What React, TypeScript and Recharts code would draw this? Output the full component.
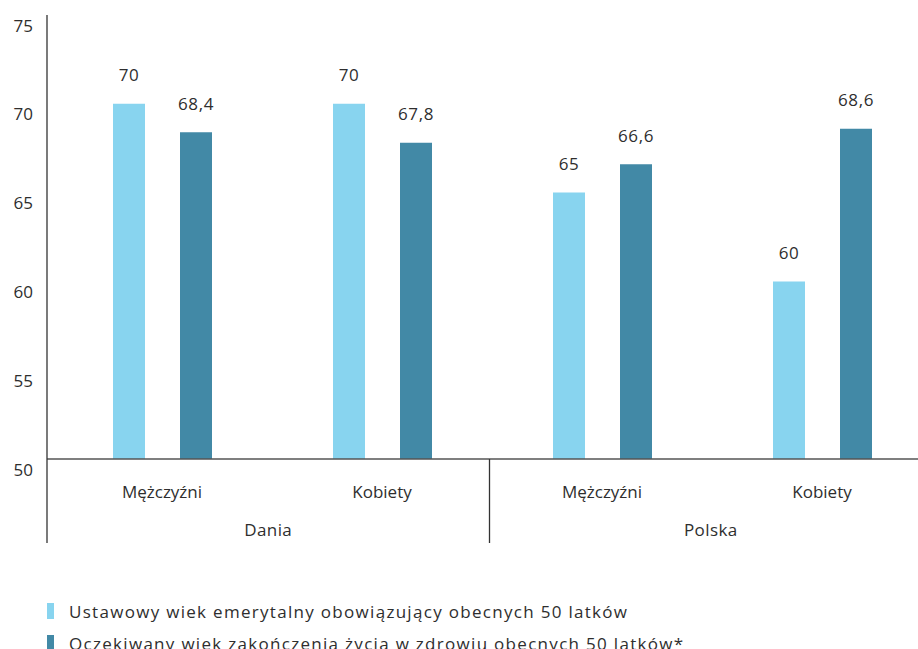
import { BarChart, Bar, XAxis, YAxis, LabelList } from 'recharts'

const categories = ['Mężczyźni', 'Kobiety', 'Mężczyźni', 'Kobiety']
const groups = ['Dania', 'Dania', 'Polska', 'Polska']
const retirementAge = [70, 70, 65, 60]
const healthyLifeEnd = [68.4, 67.8, 66.6, 68.6]
const yTicks = [50, 55, 60, 65, 70, 75]
const seriesNames = [
  'Ustawowy wiek emerytalny obowiązujący obecnych 50 latków',
  'Oczekiwany wiek zakończenia życia w zdrowiu obecnych 50 latków*',
]
const seriesColors = ['#88d4ef', '#4289a6']

const data = categories.map((c, i) => ({
  id: `${groups[i]}-${c}-${i}`,
  cat: c,
  group: groups[i],
  retirement: retirementAge[i],
  healthy: healthyLifeEnd[i],
}))

const FONT = '"Open Sans", sans-serif'
const TEXT = '#2e2e2e'

const fmt = (v: number) => String(v).replace('.', ',')

const ValueLabel = (props: any) => {
  const { x, y, width, value } = props
  return (
    <text x={x + width / 2} y={y - 29} textAnchor="middle" dominantBaseline="central"
      fontSize={17} fill={TEXT} fontFamily={FONT} letterSpacing={0.6}>
      {fmt(value)}
    </text>
  )
}

const YTick = ({ y, payload }: any) => (
  <text x={33} y={y + 10} textAnchor="end" dominantBaseline="central"
    fontSize={17} fill={TEXT} fontFamily={FONT}>
    {payload.value}
  </text>
)

const CatTick = ({ x, y, index }: any) => (
  <text x={x} y={y + 32} textAnchor="middle" dominantBaseline="central"
    fontSize={17} fill={TEXT} fontFamily={FONT}>
    {categories[index]}
  </text>
)

const GroupTick = ({ x, y, payload }: any) => {
  const left = x - (payload.offset ?? 0)
  return (
    <g>
      <line x1={left} x2={left} y1={y - 42} y2={y + 42} stroke="#333" strokeWidth={1.3} />
      <text x={x} y={y + 28} textAnchor="middle" dominantBaseline="central"
        fontSize={17} fill={TEXT} fontFamily={FONT} letterSpacing={0.4}>
        {payload.value}
      </text>
    </g>
  )
}

export default function App() {
  return (
    <div style={{ width: 918, height: 649, overflow: 'hidden', position: 'relative', background: '#fff' }}>
      <style>{'body{margin:0}'}</style>
      <BarChart width={938} height={545} data={data}
        margin={{ top: 15, right: 6, left: 0, bottom: 2 }} barGap={35}>
        <XAxis xAxisId="cat" dataKey="id" height={42} tickSize={0} tickMargin={0}
          padding={{ left: 5, right: 0 }} axisLine={{ stroke: '#555', strokeWidth: 1.3 }}
          tickLine={false} tick={<CatTick />} interval={0} />
        <XAxis xAxisId="grp" dataKey="group" height={42} tickSize={0} tickMargin={0}
          allowDuplicatedCategory={false} axisLine={false} tickLine={false}
          tick={<GroupTick />} interval={0} />
        <YAxis domain={[50, 75]} ticks={yTicks} width={47} tickLine={false}
          axisLine={{ stroke: '#333', strokeWidth: 1.3 }} tick={<YTick />} interval={0} />
        <Bar xAxisId="cat" dataKey="retirement" name={seriesNames[0]} fill={seriesColors[0]}
          barSize={32} isAnimationActive={false}>
          <LabelList dataKey="retirement" content={<ValueLabel />} />
        </Bar>
        <Bar xAxisId="cat" dataKey="healthy" name={seriesNames[1]} fill={seriesColors[1]}
          barSize={32} isAnimationActive={false}>
          <LabelList dataKey="healthy" content={<ValueLabel />} />
        </Bar>
      </BarChart>
      <div style={{ position: 'absolute', left: 47, top: 595, fontFamily: FONT, fontSize: 17,
        color: TEXT, letterSpacing: 1.3, whiteSpace: 'nowrap' }}>
        {seriesNames.map((n, i) => (
          <div key={n} style={{ display: 'flex', alignItems: 'center', height: 32 }}>
            <span style={{ width: 7, height: 16, background: seriesColors[i], marginRight: 15, display: 'inline-block', flex: 'none' }} />
            <span>{n}</span>
          </div>
        ))}
      </div>
    </div>
  )
}
